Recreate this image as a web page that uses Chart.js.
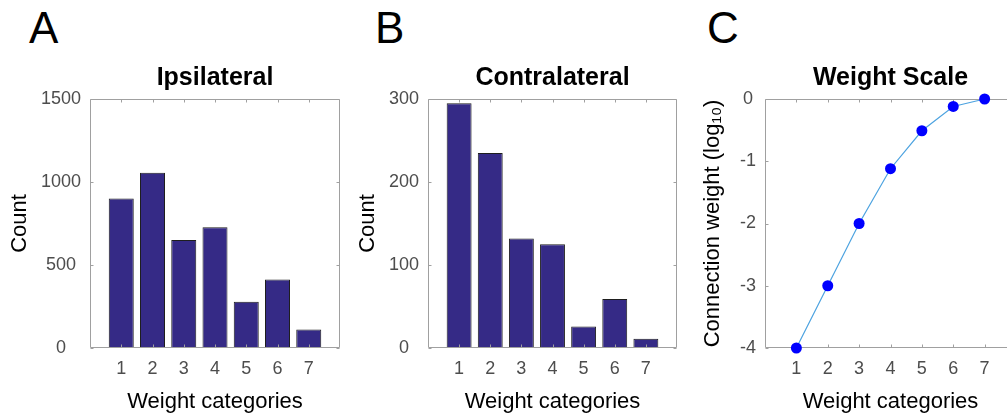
<!DOCTYPE html>
<html>
<head>
<meta charset="utf-8">
<script src="https://cdn.jsdelivr.net/npm/chart.js@4/dist/chart.umd.min.js"></script>
<style>
  html, body { margin:0; padding:0; width:1007px; height:418px; overflow:hidden; background:#fff; }
  canvas { position:absolute; top:0; }
  .lbl { position:absolute; top:6px; font-family:'Liberation Sans', Arial, Helvetica, sans-serif; font-size:44px; line-height:1; color:#000; }
</style>
</head>
<body>
<div class="lbl" style="left:29px">A</div>
<div class="lbl" style="left:375px">B</div>
<div class="lbl" style="left:707px">C</div>
<canvas id="cA" width="350" height="418" style="left:0px"></canvas>
<canvas id="cB" width="337" height="418" style="left:350px"></canvas>
<canvas id="cC" width="327" height="418" style="left:698.5px"></canvas>
<script>
// ---- data ----
const categories = [1, 2, 3, 4, 5, 6, 7];
const ipsilateralCounts = [900, 1055, 650, 727, 278, 413, 112];
const contralateralCounts = [295, 235, 132, 125, 26, 59, 11];
const weightScaleLog10 = [-4, -3, -2, -1.12, -0.51, -0.12, 0];
const ipsiYTicks = [0, 500, 1000, 1500];
const contraYTicks = [0, 100, 200, 300];
const scaleYTicks = [-4, -3, -2, -1, 0];

const FONT = "'Liberation Sans', Arial, Helvetica, sans-serif";
const AXIS_COLOR = '#a0a0a0';
const TICK_COLOR = '#4d4d4d';

const boxTicks = {
  id: 'boxTicks',
  draw(chart) {
    const {ctx, chartArea: {left, right, top, bottom}, scales: {x, y}} = chart;
    ctx.save();
    ctx.strokeStyle = AXIS_COLOR;
    ctx.lineWidth = 1;
    const L = Math.round(left) + 0.5, R = Math.round(right) - 0.5;
    const T = Math.round(top) + 0.5, B = Math.round(bottom) - 0.5;
    ctx.beginPath();
    ctx.rect(L, T, R - L, B - T);
    const len = 3;
    x.ticks.forEach(t => {
      const px = Math.round(x.getPixelForValue(t.value)) + 0.5;
      ctx.moveTo(px, T); ctx.lineTo(px, T + len);
      ctx.moveTo(px, B); ctx.lineTo(px, B - len);
    });
    y.ticks.forEach(t => {
      const py = Math.round(y.getPixelForValue(t.value)) + 0.5;
      ctx.moveTo(L, py); ctx.lineTo(L + len, py);
      ctx.moveTo(R, py); ctx.lineTo(R - len, py);
    });
    ctx.stroke();
    ctx.restore();
  },
  afterDatasetsDraw(chart, args, opts) { if (!opts.below) this.draw(chart); },
  beforeDatasetsDraw(chart, args, opts) { if (opts.below) this.draw(chart); }
};

function makeOptions(cfg) {
  return {
    responsive: false,
    animation: false,
    devicePixelRatio: 1,
    layout: { padding: { left: 0, right: 10, top: 0, bottom: 0 } },
    plugins: {
      legend: { display: false },
      tooltip: { enabled: false },
      title: {
        display: true, text: cfg.title, fullSize: false, color: '#000',
        font: { family: FONT, size: 25, weight: 'bold', lineHeight: 1.2 },
        padding: { top: 63.5, bottom: 5.5 }
      },
      boxTicks: { below: !!cfg.below }
    },
    scales: {
      x: {
        type: 'linear', min: 0, max: 8, offset: false,
        grid: { display: false, drawTicks: false, tickLength: 0, offset: false }, border: { display: false },
        afterBuildTicks: s => { s.ticks = categories.map(v => ({ value: v })); },
        afterFit: s => { s.height = 70; },
        ticks: { color: TICK_COLOR, padding: 10.5, font: { family: FONT, size: 18, lineHeight: 1.2 }, callback: v => String(v), maxRotation: 0, autoSkip: false },
        title: { display: true, text: 'Weight categories', color: '#000', font: { family: FONT, size: 22, lineHeight: 1.2 }, padding: { top: 0, bottom: 2.8 } }
      },
      y: {
        type: 'linear', min: cfg.yTicks[0], max: cfg.yTicks[cfg.yTicks.length - 1],
        grid: { display: false, drawTicks: false, tickLength: 0 }, border: { display: false },
        afterBuildTicks: s => { s.ticks = cfg.yTicks.map(v => ({ value: v })); },
        afterFit: s => { s.width = cfg.yWidth; },
        ticks: { color: TICK_COLOR, padding: 9, crossAlign: 'center', font: { family: FONT, size: 18, lineHeight: 1.2 }, callback: v => String(v), autoSkip: false },
        title: { display: true, text: cfg.yTitle, color: '#000', font: { family: FONT, size: 22, lineHeight: 1.2 }, padding: { top: cfg.yTitlePad, bottom: 0 } }
      }
    }
  };
}

function barData(vals) {
  return {
    datasets: [{
      data: categories.map((c, i) => ({ x: c, y: vals[i] })),
      backgroundColor: '#352a86',
      borderColor: '#1e1e1e',
      borderWidth: 1,
      categoryPercentage: 1.0,
      barPercentage: 0.8
    }]
  };
}

new Chart(document.getElementById('cA'), {
  type: 'bar',
  data: barData(ipsilateralCounts),
  options: makeOptions({ title: 'Ipsilateral', yTicks: ipsiYTicks, yWidth: 90, yTitle: 'Count', yTitlePad: 6.8 }),
  plugins: [boxTicks]
});

new Chart(document.getElementById('cB'), {
  type: 'bar',
  data: barData(contralateralCounts),
  options: makeOptions({ title: 'Contralateral', yTicks: contraYTicks, yWidth: 78, yTitle: 'Count', yTitlePad: 4.8 }),
  plugins: [boxTicks]
});

new Chart(document.getElementById('cC'), {
  type: 'line',
  data: {
    datasets: [{
      data: categories.map((c, i) => ({ x: c, y: weightScaleLog10[i] })),
      borderColor: '#4da3e0',
      borderWidth: 1.2,
      tension: 0,
      clip: false,
      pointRadius: 5.5,
      pointBackgroundColor: '#0000ff',
      pointBorderColor: '#0000ff',
      pointBorderWidth: 0
    }]
  },
  options: makeOptions({ title: 'Weight Scale', yTicks: scaleYTicks, yWidth: 66, yTitle: 'Connection weight (log\u2081\u2080)', yTitlePad: 0.8, below: true }),
  plugins: [boxTicks]
});
</script>
</body>
</html>
